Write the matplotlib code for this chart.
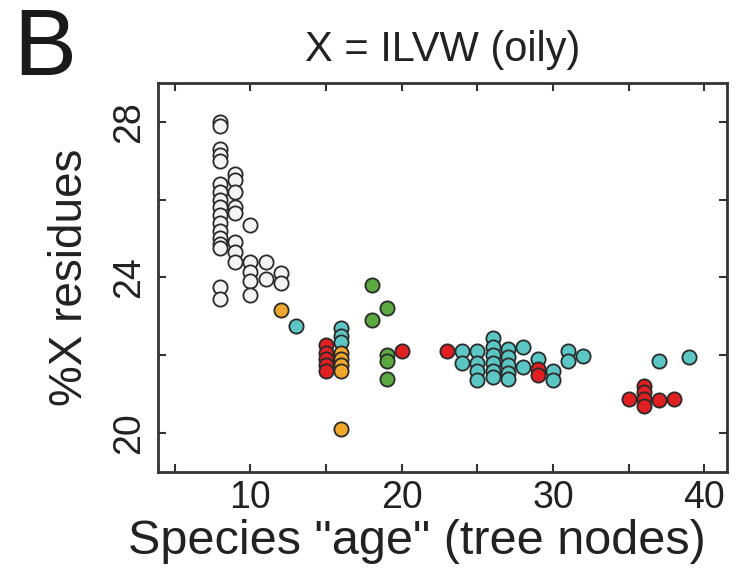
import matplotlib
matplotlib.use('Agg')
import matplotlib.pyplot as plt
from matplotlib.ticker import MultipleLocator

plt.rcParams['font.family'] = ['Liberation Sans', 'DejaVu Sans']

# grey (white) points
grey_x = [8] * 17 + [9] * 8 + [10] * 5 + [11] * 2 + [12] * 2
grey_y = [28.0, 27.9, 27.3, 27.15, 27.0, 26.4, 26.2, 26.0, 25.8, 25.6, 25.4,
          25.2, 25.0, 24.85, 24.75, 23.75, 23.45,
          26.65, 26.5, 26.2, 25.8, 25.65, 24.9, 24.65, 24.4,
          25.35, 24.4, 24.15, 23.9, 23.55,
          24.4, 23.95,
          24.1, 23.85]

orange_x = [12, 16, 16, 16, 16, 16]
orange_y = [23.15, 22.05, 21.9, 21.75, 21.6, 20.1]

cyan_x = [13, 16, 16, 16, 24, 24, 25, 25, 25, 25,
          26, 26, 26, 26, 26, 26, 27, 27, 27, 27, 27,
          28, 28, 29, 30, 30, 31, 31, 32, 37, 39]
cyan_y = [22.75, 22.7, 22.5, 22.35, 22.1, 21.8, 22.1, 21.8, 21.6, 21.35,
          22.45, 22.2, 22.0, 21.8, 21.6, 21.45, 22.15, 21.95, 21.75, 21.55, 21.4,
          22.2, 21.7, 21.9, 21.6, 21.35, 22.1, 21.85, 21.98, 21.85, 21.95]

red_x = [15, 15, 15, 15, 15, 20, 23, 29, 29, 35, 36, 36, 36, 36, 37, 38]
red_y = [22.25, 22.05, 21.9, 21.75, 21.6, 22.1, 22.1, 21.65, 21.5,
         20.87, 21.2, 21.05, 20.87, 20.7, 20.85, 20.88]

green_x = [18, 19, 18, 19, 19, 19]
green_y = [23.8, 23.2, 22.9, 22.0, 21.85, 21.4]

fig = plt.figure(figsize=(7.39, 5.79), dpi=100)
ax = fig.add_axes([0.214, 0.185, 0.77, 0.672])

kw = dict(s=105, edgecolors='#2a2a2a', linewidths=1.3, zorder=3)
ax.scatter(grey_x, grey_y, c='#f4f4f4', **kw)
ax.scatter(cyan_x, cyan_y, c='#5cc6c4', **kw)
ax.scatter(orange_x, orange_y, c='#f0a82c', **kw)
ax.scatter(green_x, green_y, c='#5aa83e', **kw)
ax.scatter(red_x, red_y, c='#e01f22', **kw)

ax.set_xlim(3.9, 41.5)
ax.set_ylim(19.0, 29.0)
ax.xaxis.set_major_locator(MultipleLocator(10))
ax.xaxis.set_minor_locator(MultipleLocator(5))
ax.yaxis.set_major_locator(MultipleLocator(4))
ax.yaxis.set_minor_locator(MultipleLocator(2))
ax.tick_params(which='both', direction='in', top=True, right=True,
               length=6, width=1.5, color='#333333', labelsize=27,
               labelcolor='#222222')
ax.tick_params(axis='x', pad=6)
ax.tick_params(axis='y', pad=8)
for lab in ax.get_yticklabels():
    lab.set_rotation(90)
    lab.set_va('center')
for sp in ax.spines.values():
    sp.set_linewidth(2)
    sp.set_color('#333333')

ax.set_title('X = ILVW (oily)', fontsize=30, color='#222222', pad=16)
ax.set_xlabel('Species "age" (tree nodes)', fontsize=35, color='#222222')
ax.xaxis.set_label_coords(0.455, -0.122)
ax.set_ylabel('%X residues', fontsize=33, color='#222222', labelpad=14)
fig.text(0.018, 0.87, 'B', fontsize=68, color='#1a1a1a')

fig.savefig('out.png', dpi=100)
